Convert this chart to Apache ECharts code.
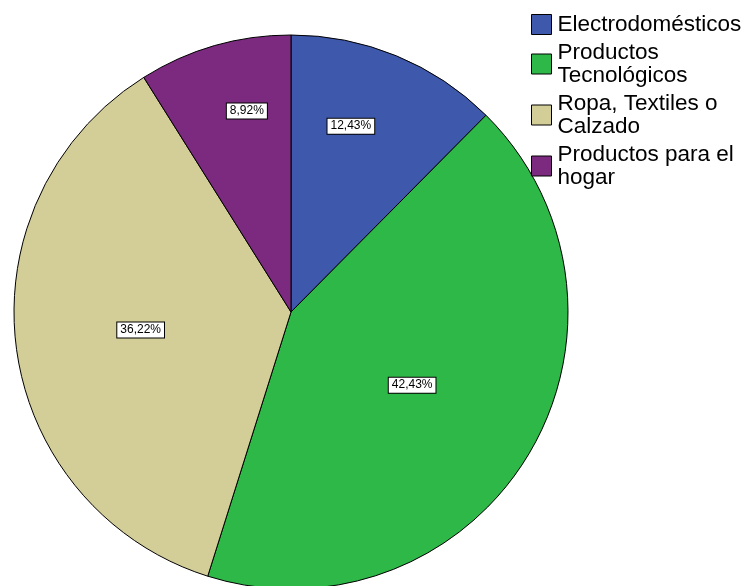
<!DOCTYPE html>
<html>
<head>
<meta charset="utf-8">
<script src="https://cdn.jsdelivr.net/npm/echarts@6/dist/echarts.min.js"></script>
<style>html,body{margin:0;padding:0;background:#fff}#c{width:749px;height:586px}</style>
</head>
<body>
<div id="c"></div>
<script>
const categories = ['Electrodomésticos', 'Productos\nTecnológicos', 'Ropa, Textiles o\nCalzado', 'Productos para el\nhogar'];
const values = [12.43, 42.43, 36.22, 8.92];
const colors = ['#3E58AC', '#2EB848', '#D3CE97', '#7B2A7F'];
const labelShift = [[6, -55], [0, 0], [-10, 0], [-5, -65]];

const chart = echarts.init(document.getElementById('c'));
chart.setOption({
  animation: false,
  legend: {
    orient: 'vertical',
    left: 531,
    top: 13,
    padding: 0,
    itemWidth: 20,
    itemHeight: 20,
    itemGap: 5,
    icon: 'rect',
    itemStyle: { borderColor: '#000', borderWidth: 1 },
    textStyle: { fontFamily: 'Liberation Sans, Arial, sans-serif', fontSize: 22.5, lineHeight: 23, color: '#000', padding: [0, 0, 0, 1] },
    data: categories
  },
  series: [{
    type: 'pie',
    center: [291, 312],
    radius: 277,
    startAngle: 90,
    clockwise: true,
    avoidLabelOverlap: false,
    itemStyle: { borderColor: '#000', borderWidth: 1 },
    label: {
      show: true,
      position: 'inside',
      formatter: p => p.value.toFixed(2).replace('.', ',') + '%',
      fontFamily: 'Liberation Sans, Arial, sans-serif',
      fontSize: 12,
      lineHeight: 13,
      color: '#000',
      backgroundColor: '#fff',
      borderColor: '#000',
      borderWidth: 1,
      padding: [1, 3]
    },
    labelLayout: p => ({ dx: labelShift[p.dataIndex][0], dy: labelShift[p.dataIndex][1] }),
    emphasis: { disabled: true },
    data: categories.map((c, i) => ({ name: c, value: values[i], itemStyle: { color: colors[i] } }))
  }]
});
</script>
</body>
</html>
